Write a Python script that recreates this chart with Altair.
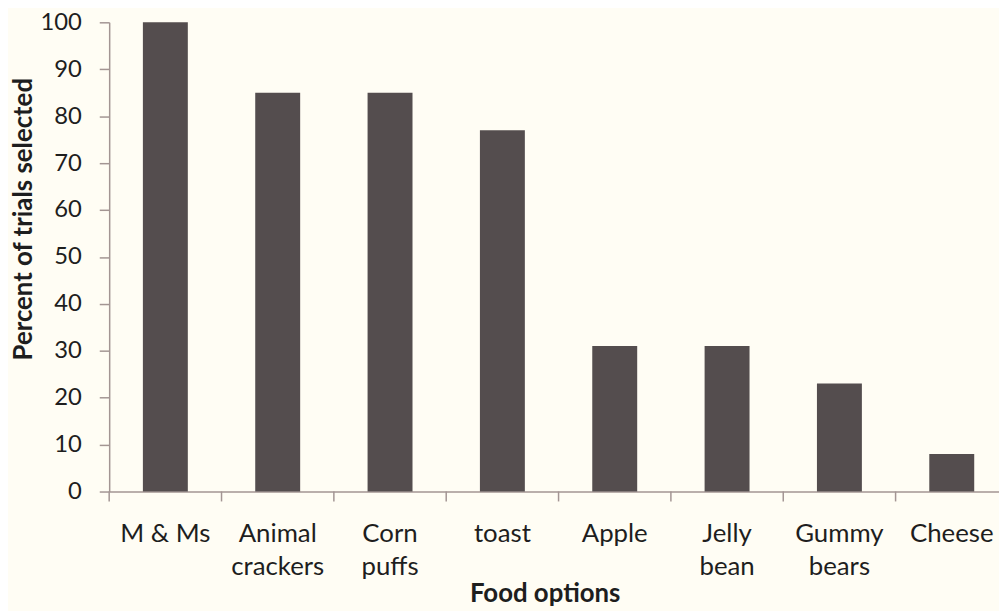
import altair as alt
import pandas as pd

categories = ["M & Ms", "Animal|crackers", "Corn|puffs", "toast", "Apple",
              "Jelly|bean", "Gummy|bears", "Cheese"]
percent = [100, 85, 85, 77, 31, 31, 23, 8]
y_ticks = [0, 10, 20, 30, 40, 50, 60, 70, 80, 90, 100]

df = pd.DataFrame({"food": categories, "pct": percent})

FONT = "Lato"
AXIS_COLOR = "#A39593"
BAR_COLOR = "#544D4E"
TEXT_COLOR = "#1E1E1E"
PLOT_H = 473
RANGE_W = 906
STEP = RANGE_W / 8.0

x_enc = alt.X(
    "food:N",
    sort=categories,
    scale=alt.Scale(paddingInner=0.6, paddingOuter=0.3, range=[0, RANGE_W]),
    axis=alt.Axis(
        title="Food options",
        labelExpr="split(datum.value, '|')",
        labelAngle=0,
        labelFont=FONT,
        labelFontSize=26,
        labelColor=TEXT_COLOR,
        labelLineHeight=34,
        labelPadding=29,
        labelBaseline="top",
        ticks=False,
        domainColor=AXIS_COLOR,
        domainWidth=1.5,
        titleFont=FONT,
        titleFontSize=26,
        titleFontWeight="bold",
        titleColor=TEXT_COLOR,
        titleX=439,
        titleY=111,
        titleBaseline="alphabetic",
        titleAnchor="start",
        titleAlign="center",
    ),
)

bars = alt.Chart(df).mark_bar(color=BAR_COLOR).encode(
    x=x_enc,
    y=alt.Y(
        "pct:Q",
        scale=alt.Scale(domain=[0, 100], nice=False),
        axis=alt.Axis(
            title="Percent of trials selected",
            values=y_ticks,
            grid=False,
            labelFont=FONT,
            labelFontSize=24,
            labelColor=TEXT_COLOR,
            labelPadding=18,
            tickSize=10,
            tickColor=AXIS_COLOR,
            tickWidth=1.5,
            domainColor=AXIS_COLOR,
            domainWidth=1.5,
            titleFont=FONT,
            titleFontSize=26,
            titleFontWeight="bold",
            titleColor=TEXT_COLOR,
            titleX=-78,
            titleY=198,
            titleBaseline="alphabetic",
            titleAngle=270,
            titleAlign="center",
        ),
    ),
)

ticks = alt.Chart(df).mark_rule(
    color=AXIS_COLOR, strokeWidth=1.5, xOffset=-0.3 * STEP
).encode(
    x=alt.X("food:N", sort=categories, bandPosition=0),
    y=alt.value(PLOT_H),
    y2=alt.value(PLOT_H + 10),
)

chart = (
    alt.layer(bars, ticks)
    .properties(
        width=897,
        height=PLOT_H,
        background="#FFFDF4",
        padding={"left": 102, "top": 12, "right": 0, "bottom": 118},
        autosize=alt.AutoSizeParams(type="none"),
    )
    .configure_view(strokeWidth=0)
)

chart.save("out.html", embed_options={"renderer": "svg", "actions": False})
